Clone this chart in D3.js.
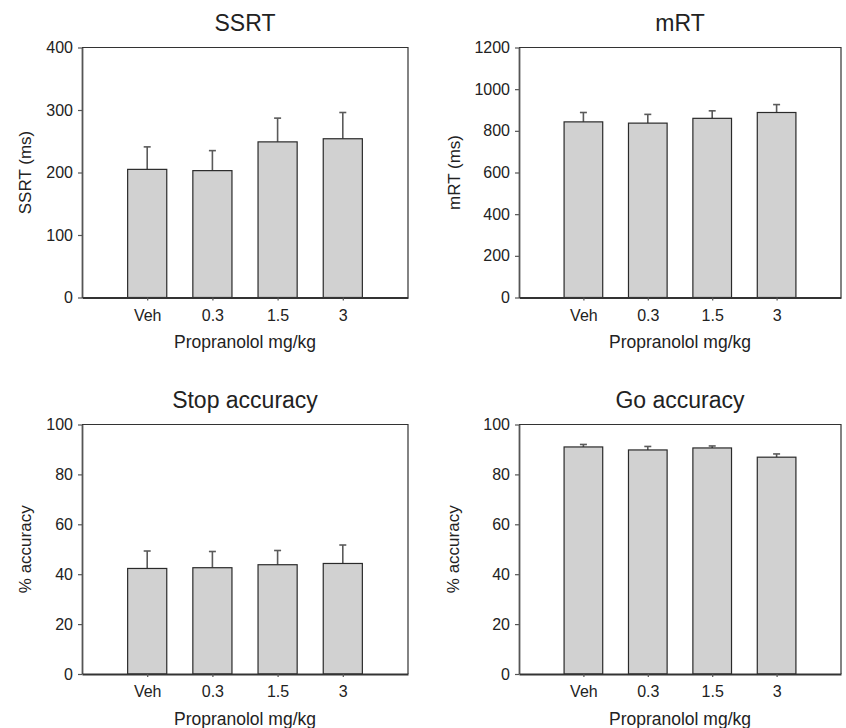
<!DOCTYPE html>
<html>
<head>
<meta charset="utf-8">
<script src="https://cdn.jsdelivr.net/npm/d3@7"></script>
<style>
  body { margin: 0; background: #fff; }
  svg { display: block; font-family: "Liberation Sans", Arial, sans-serif; }
</style>
</head>
<body>
<div id="chart"></div>
<script>
// doses on x axis
const doses = ["Veh", "0.3", "1.5", "3"];

// SSRT (ms)
const ssrtMean = [205, 203, 249, 254];
const ssrtErr = [36, 32, 38, 42];
const ssrtTicks = [0, 100, 200, 300, 400];

// mRT (ms)
const mrtMean = [843, 837, 860, 888];
const mrtErr = [45, 42, 36, 38];
const mrtTicks = [0, 200, 400, 600, 800, 1000, 1200];

// stop accuracy (%)
const stopMean = [42.3, 42.6, 43.8, 44.3];
const stopErr = [7.0, 6.5, 5.7, 7.4];
const accTicks = [0, 20, 40, 60, 80, 100];

// go accuracy (%)
const goMean = [91.0, 89.8, 90.6, 86.9];
const goErr = [1.0, 1.4, 0.8, 1.3];

const svg = d3.select("#chart")
    .append("svg")
    .attr("width", 846)
    .attr("height", 728);

const panels = [
    {title: "SSRT", ylab: "SSRT (ms)", mean: ssrtMean, err: ssrtErr, ticks: ssrtTicks,
     x0: 82, x1: 408, y0: 47.5, y1: 297.5, ylabX: 25},
    {title: "mRT", ylab: "mRT (ms)", mean: mrtMean, err: mrtErr, ticks: mrtTicks,
     x0: 519, x1: 841, y0: 47.5, y1: 297.5, ylabX: 454},
    {title: "Stop accuracy", ylab: "% accuracy", mean: stopMean, err: stopErr, ticks: accTicks,
     x0: 82, x1: 408, y0: 424.5, y1: 674, ylabX: 25},
    {title: "Go accuracy", ylab: "% accuracy", mean: goMean, err: goErr, ticks: accTicks,
     x0: 519, x1: 841, y0: 424.5, y1: 674, ylabX: 453}
];

panels.forEach(p => drawPanel(p));

function drawPanel(p) {
    const data = doses.map((d, i) => ({dose: d, i: i + 1, mean: p.mean[i], err: p.err[i]}));

    const x = d3.scaleLinear()
        .domain([0, 5])
        .range([p.x0, p.x1]);

    const y = d3.scaleLinear()
        .domain([0, d3.max(p.ticks)])
        .range([p.y1, p.y0]);

    const barW = (x(1) - x(0)) * 0.6;
    const g = svg.append("g");

    // frame top + right
    g.append("path")
        .attr("d", `M${p.x0},${p.y0}H${p.x1}V${p.y1}`)
        .attr("fill", "none")
        .attr("stroke", "#333")
        .attr("stroke-width", 1.2);

    // error bars (drawn under bars)
    const eb = g.selectAll(".err")
        .data(data)
        .join("g")
        .attr("stroke", "#5a5a5a")
        .attr("stroke-width", 1.6);
    eb.append("line")
        .attr("x1", d => x(d.i)).attr("x2", d => x(d.i))
        .attr("y1", d => y(d.mean)).attr("y2", d => y(d.mean + d.err));
    eb.append("line")
        .attr("x1", d => x(d.i) - 3.5).attr("x2", d => x(d.i) + 3.5)
        .attr("y1", d => y(d.mean + d.err)).attr("y2", d => y(d.mean + d.err));

    g.selectAll(".bar")
        .data(data)
        .join("rect")
        .attr("x", d => x(d.i) - barW / 2)
        .attr("y", d => y(d.mean))
        .attr("width", barW)
        .attr("height", d => y(0) - y(d.mean))
        .attr("fill", "#d1d1d1")
        .attr("stroke", "#2a2a2a")
        .attr("stroke-width", 1.2);

    // y axis
    const ya = g.append("g")
        .attr("transform", `translate(${p.x0},0)`)
        .call(d3.axisLeft(y).tickValues(p.ticks).tickFormat(d3.format("d"))
            .tickSize(4).tickPadding(5).tickSizeOuter(0));
    ya.attr("font-size", 16).attr("font-family", "Liberation Sans, Arial, sans-serif");
    ya.select(".domain").attr("stroke", "#555").attr("stroke-width", 1.8);
    ya.selectAll(".tick line").attr("stroke", "#555").attr("stroke-width", 1.2);
    ya.selectAll("text").attr("fill", "#222");

    // x axis
    const xa = g.append("g")
        .attr("transform", `translate(0,${p.y1})`)
        .call(d3.axisBottom(x).tickValues([1, 2, 3, 4]).tickFormat(v => doses[v - 1])
            .tickSize(3).tickPadding(9).tickSizeOuter(0));
    xa.attr("font-size", 16).attr("font-family", "Liberation Sans, Arial, sans-serif");
    xa.select(".domain").attr("stroke", "#333").attr("stroke-width", 1.8);
    xa.selectAll(".tick line").attr("stroke", "#555").attr("stroke-width", 1.2);
    xa.selectAll("text").attr("fill", "#222");

    // titles
    const cx = (p.x0 + p.x1) / 2;
    g.append("text")
        .text(p.title)
        .attr("x", cx)
        .attr("y", p.y0 - 16.5)
        .attr("text-anchor", "middle")
        .attr("font-size", 23)
        .attr("fill", "#222");

    g.append("text")
        .text("Propranolol mg/kg")
        .attr("x", cx)
        .attr("y", p.y1 + 50.5)
        .attr("text-anchor", "middle")
        .attr("font-size", 17.5)
        .attr("fill", "#222");

    g.append("text")
        .text(p.ylab)
        .attr("transform", `translate(${p.ylabX},${(p.y0 + p.y1) / 2}) rotate(-90)`)
        .attr("dy", "0.35em")
        .attr("text-anchor", "middle")
        .attr("font-size", 17)
        .attr("fill", "#222");
}
</script>
</body>
</html>
